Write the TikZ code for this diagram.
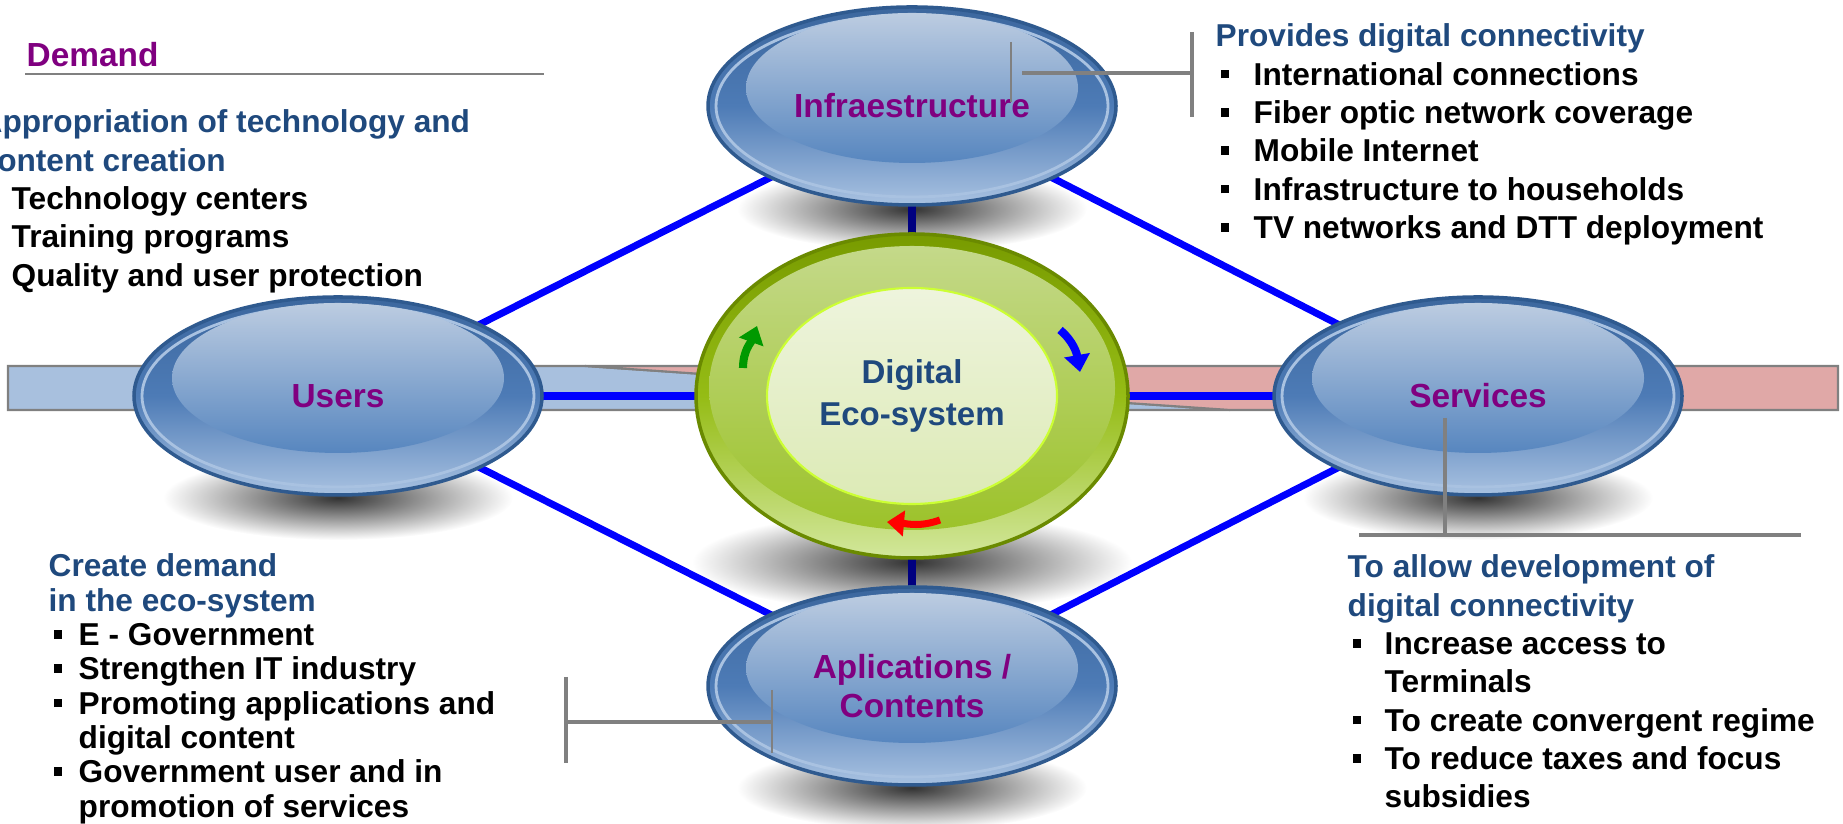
\documentclass[tikz,border=0pt]{standalone}
\usepackage{fontspec}
\setmainfont{Liberation Sans}
\usetikzlibrary{shapes.geometric,arrows.meta,backgrounds}

\definecolor{labpurple}{HTML}{800080}
\definecolor{headblue}{HTML}{1F497D}
\definecolor{linkblue}{HTML}{0000FF}
\definecolor{linknavy}{HTML}{000080}
\definecolor{rimblue}{HTML}{2F5A8F}
\definecolor{bubtop}{HTML}{3C679E}
\definecolor{bubmid}{HTML}{4D7BB6}
\definecolor{bubbot}{HTML}{A9C2E1}
\definecolor{hitop}{HTML}{BCCCE1}
\definecolor{hibot}{HTML}{5786BF}
\definecolor{bandblue}{HTML}{A8C0DE}
\definecolor{bandpink}{HTML}{E0A8A7}
\definecolor{ecorim}{HTML}{6A8A00}
\definecolor{ecotop}{HTML}{789B00}
\definecolor{ecomid}{HTML}{95BC15}
\definecolor{ecobot}{HTML}{D2E79B}
\definecolor{ringtop}{HTML}{C6DA8E}
\definecolor{ringbot}{HTML}{98C020}
\definecolor{coretop}{HTML}{EEF4DD}
\definecolor{corebot}{HTML}{DCEAB5}
\definecolor{coreline}{HTML}{CCFF33}
\definecolor{arrgreen}{HTML}{009900}

\newlength{\bulw}
\newcommand{\sqb}{\makebox[\bulw][l]{\hspace*{0.05cm}\rule[0.22em]{0.27em}{0.27em}}}
\newcommand{\hd}[1]{\multicolumn{2}{@{}l@{}}{\color{headblue}#1}}

\tikzset{
  bubble/.style={ellipse, inner sep=0pt, minimum width=4.08cm, minimum height=1.98cm,
    draw=rimblue, line width=1pt, top color=bubtop, bottom color=bubbot, middle color=bubmid,
    text=labpurple, align=center, font=\fontsize{9.5pt}{11.1pt}\selectfont\bfseries,
    path picture={
      \draw[bubbot, line width=0.8pt] (path picture bounding box.center)
        ellipse [x radius=1.96cm, y radius=0.91cm];
      \shade[top color=hitop, bottom color=hibot] ([yshift=0.18cm]path picture bounding box.center)
        ellipse [x radius=1.66cm, y radius=0.75cm];
    }},
  hub/.style={ellipse, inner sep=0pt, minimum width=4.32cm, minimum height=3.24cm,
    draw=ecorim, line width=1pt, top color=ecotop, bottom color=ecobot, middle color=ecomid,
    text=headblue, align=center, font=\fontsize{9.4pt}{12.2pt}\selectfont\bfseries,
    path picture={
      \shade[top color=ringtop, bottom color=ringbot] ([yshift=0.08cm]path picture bounding box.center)
        ellipse [x radius=2.03cm, y radius=1.42cm];
      \shade[draw=coreline, line width=0.6pt, top color=coretop, bottom color=corebot]
        (path picture bounding box.center) ellipse [x radius=1.45cm, y radius=1.08cm];
    }},
  blueline/.style={linkblue, line width=2pt},
  navyline/.style={linknavy, line width=2.2pt},
  bracketline/.style={gray, line width=1pt},
  listtext/.style={anchor=base west, inner sep=0pt, font=\fontsize{9pt}{10.9pt}\selectfont\bfseries},
  cyclearrow/.style={line width=2.3pt, -{Triangle[length=0.17cm,width=0.25cm]}},
  shadowfill/.style={inner color=black!80, outer color=white}
}

\begin{document}
\begin{tikzpicture}
\useasboundingbox (0,0) rectangle (18.43,8.24);

% the four blue bubbles round the eco-system
\node[bubble] (infra) at (9.12,7.18) {Infraestructure};
\node[bubble] (users) at (3.38,4.28) {Users};
\node[bubble] (services) at (14.78,4.28) {Services};
\node[bubble] (apps) at (9.12,1.38) {Aplications /\\Contents};
\node[hub] (eco) at (9.12,4.28) {Digital\\Eco-system};

% arrows turning in the green ring
\draw[cyclearrow, arrgreen] (7.43,4.56) to[out=90,in=250] (7.57,4.98);
\draw[cyclearrow, linkblue] (10.60,4.94) to[out=-40,in=100] (10.80,4.52);
\draw[cyclearrow, red, line width=2pt] (9.40,3.04) to[out=200,in=-5] (8.87,3.02);

\begin{scope}[on background layer]
% shadows
\shade[shadowfill] (9.12,6.15) ellipse [x radius=1.75, y radius=0.42];
\shade[shadowfill] (3.38,3.26) ellipse [x radius=1.75, y radius=0.42];
\shade[shadowfill] (14.78,3.26) ellipse [x radius=1.75, y radius=0.42];
\shade[shadowfill] (9.12,0.36) ellipse [x radius=1.75, y radius=0.42];
\shade[shadowfill] (9.12,2.62) ellipse [x radius=2.2, y radius=0.5];
% the band behind
\draw[gray, line width=0.6pt, fill=bandblue] (0.08,4.58) -- (5.85,4.58) -- (12.30,4.14) -- (0.08,4.14) -- cycle;
\draw[gray, line width=0.6pt, fill=bandpink] (5.85,4.58) -- (18.38,4.58) -- (18.38,4.14) -- (12.30,4.14) -- cycle;
% links
\draw[blueline] (users.center) -- (infra.center);
\draw[blueline] (infra.center) -- (services.center);
\draw[blueline] (services.center) -- (apps.center);
\draw[blueline] (apps.center) -- (users.center);
\draw[blueline, line width=2.3pt] (users.center) -- (eco.center);
\draw[blueline, line width=2.3pt] (eco.center) -- (services.center);
\draw[navyline] (infra.center) -- (eco.center);
\draw[navyline] (eco.center) -- (apps.center);
\end{scope}

% Demand
\node[anchor=base west, inner sep=0pt, text=labpurple, font=\fontsize{9.5pt}{11pt}\selectfont\bfseries]
  (demand) at (0.26,7.57) {Demand};
\draw[gray, line width=0.7pt] (0.25,7.50) -- (5.44,7.50);

% brackets
\draw[bracketline, line width=0.6pt] (10.11,7.82) -- (10.11,7.22);
\draw[bracketline] (10.22,7.51) -- (11.92,7.51);
\draw[bracketline] (11.92,7.92) -- (11.92,7.07);
\draw[bracketline] (14.45,4.06) -- (14.45,2.89);
\draw[bracketline] (13.59,2.89) -- (18.01,2.89);
\draw[bracketline] (5.66,1.47) -- (5.66,0.61);
\draw[bracketline] (5.66,1.02) -- (7.72,1.02);
\draw[bracketline, line width=0.6pt] (7.72,1.34) -- (7.72,0.71);

% text blocks
\node[listtext] (usetext) at (-0.21,6.91) {\setlength{\bulw}{0.32cm}%
  \begin{tabular}[t]{@{}l@{}l@{}}
  \hd{Appropriation of technology and}\\
  \hd{content creation}\\
  \sqb & Technology centers\\
  \sqb & Training programs\\
  \sqb & Quality and user protection
  \end{tabular}};
\node[listtext] (infratext) at (12.15,7.77) {\setlength{\bulw}{0.38cm}%
  \begin{tabular}[t]{@{}l@{}l@{}}
  \hd{Provides digital connectivity}\\
  \sqb & International connections\\
  \sqb & Fiber optic network coverage\\
  \sqb & Mobile Internet\\
  \sqb & Infrastructure to households\\
  \sqb & TV networks and DTT deployment
  \end{tabular}};
\node[listtext] (servtext) at (13.47,2.46) {\setlength{\bulw}{0.37cm}%
  \begin{tabular}[t]{@{}l@{}l@{}}
  \hd{To allow development of}\\
  \hd{digital connectivity}\\
  \sqb & Increase access to\\
      & Terminals\\
  \sqb & To create convergent regime\\
  \sqb & To reduce taxes and focus\\
      & subsidies
  \end{tabular}};
\node[listtext, font=\fontsize{9pt}{9.76pt}\selectfont\bfseries] (apptext) at (0.48,2.47) {\setlength{\bulw}{0.30cm}%
  \begin{tabular}[t]{@{}l@{}l@{}}
  \hd{Create demand}\\
  \hd{in the eco-system}\\
  \sqb & E - Government\\
  \sqb & Strengthen IT industry\\
  \sqb & Promoting applications and\\
      & digital content\\
  \sqb & Government user and in\\
      & promotion of services
  \end{tabular}};
\end{tikzpicture}
\end{document}
